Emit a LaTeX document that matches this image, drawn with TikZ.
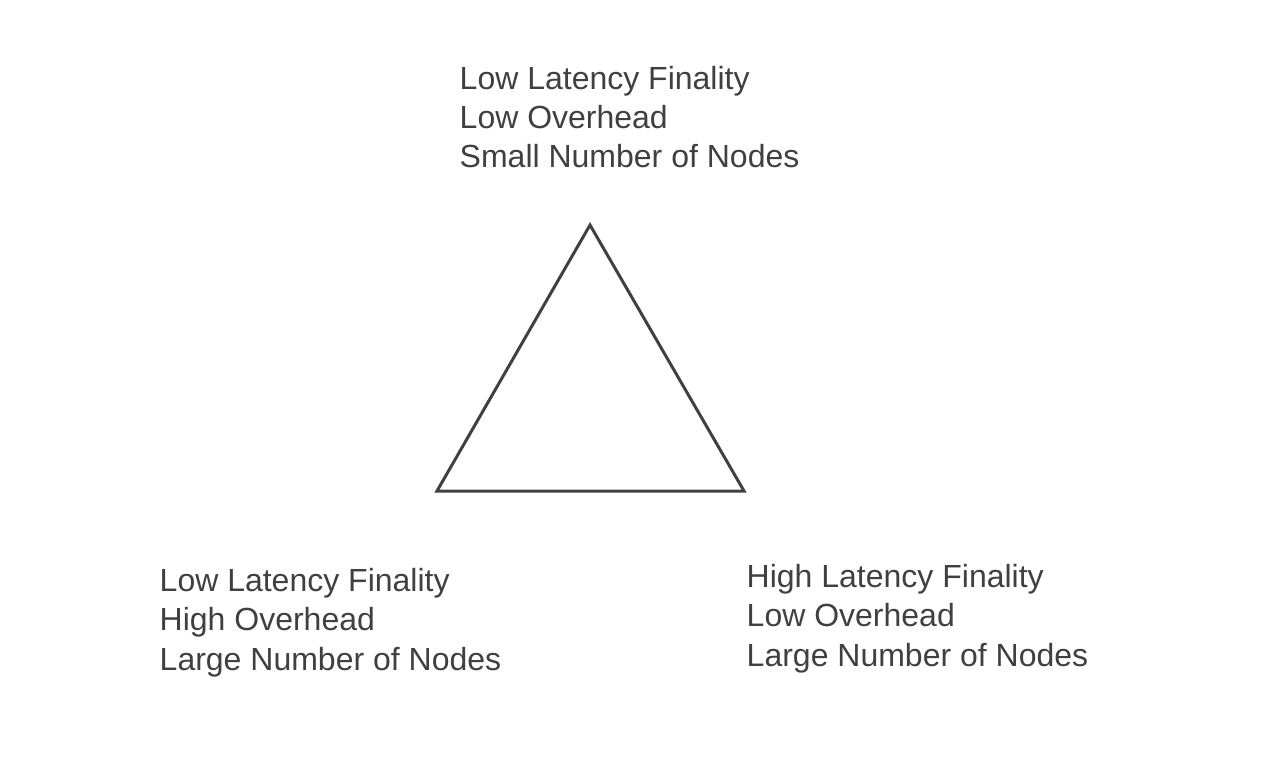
\documentclass[tikz,border=0pt]{standalone}
\usepackage{fontspec}
\setmainfont{Liberation Sans}
\usetikzlibrary{positioning}
\definecolor{inkgray}{HTML}{404040}

\begin{document}
\begin{tikzpicture}[x=0.01cm, y=-0.01cm,
        corner label/.style={anchor=base west, inner sep=0pt, align=left,
            text=inkgray, font=\fontsize{9.1pt}{11.1pt}\selectfont}]
        \useasboundingbox (0,0) rectangle (1280,758);

        % Triangle corners
        \coordinate (apex) at (590,225);
        \coordinate (left) at (437,491);
        \coordinate (right) at (744,491);
        \draw[inkgray, line width=0.85pt] (apex) -- (right) -- (left) -- cycle;

        % Labels at the three corners (anchored on their last line)
        \node[corner label] (toplabel) at (459,168)
            {Low Latency Finality\\Low Overhead\\Small Number of Nodes};
        \node[corner label] (leftlabel) at (159,670)
            {Low Latency Finality\\High Overhead\\Large Number of Nodes};
        \node[corner label] (rightlabel) at (746,666)
            {High Latency Finality\\Low Overhead\\Large Number of Nodes};

    \end{tikzpicture}
\end{document}
